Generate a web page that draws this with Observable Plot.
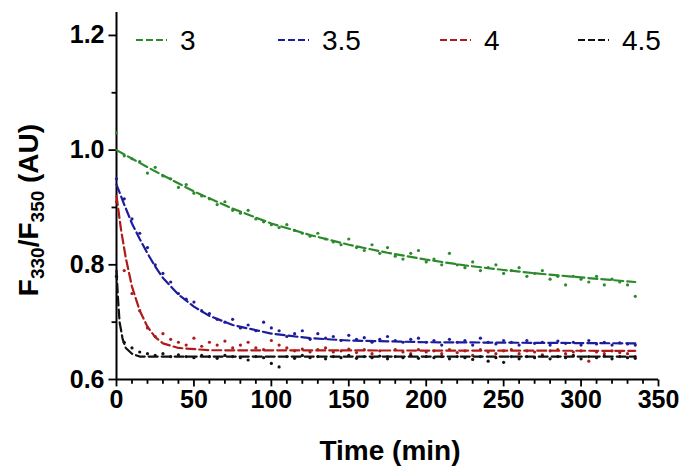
<!DOCTYPE html>
<html><head><meta charset="utf-8">
<script src="https://cdn.jsdelivr.net/npm/d3@7"></script>
<script src="https://cdn.jsdelivr.net/npm/@observablehq/plot@0.6"></script>
<style>body{margin:0;background:#fff}</style>
</head><body><div id="chart"></div>
<script>
const seriesNames = ["3", "3.5", "4", "4.5"];
const colours = ["#2b8a2b", "#1c1c9c", "#b01a1a", "#111111"];
const times = [0,5,10,15,20,25,30,35,40,45,50,55,60,65,70,75,80,85,90,95,100,105,110,115,120,125,130,135,140,145,150,155,160,165,170,175,180,185,190,195,200,205,210,215,220,225,230,235,240,245,250,255,260,265,270,275,280,285,290,295,300,305,310,315,320,325,330,335];
const dots3 = [1.03,0.99,0.985,0.98,0.96,0.97,0.955,0.95,0.935,0.94,0.925,0.92,0.915,0.905,0.91,0.895,0.89,0.895,0.88,0.875,0.87,0.865,0.87,0.86,0.855,0.85,0.855,0.845,0.84,0.835,0.845,0.83,0.825,0.835,0.82,0.83,0.815,0.81,0.82,0.825,0.805,0.81,0.80,0.82,0.80,0.795,0.805,0.79,0.795,0.80,0.785,0.79,0.795,0.78,0.785,0.79,0.775,0.78,0.765,0.78,0.775,0.77,0.78,0.765,0.775,0.77,0.765,0.745];
const dots35 = [0.95,0.915,0.88,0.855,0.83,0.80,0.785,0.77,0.75,0.74,0.735,0.72,0.715,0.705,0.70,0.705,0.69,0.695,0.685,0.70,0.69,0.685,0.675,0.68,0.685,0.67,0.68,0.672,0.675,0.668,0.677,0.67,0.673,0.665,0.67,0.675,0.668,0.665,0.67,0.672,0.665,0.668,0.66,0.67,0.665,0.668,0.66,0.672,0.665,0.662,0.668,0.665,0.66,0.668,0.663,0.665,0.66,0.667,0.663,0.665,0.66,0.668,0.662,0.665,0.66,0.664,0.662,0.66];
const dots4 = [0.91,0.79,0.75,0.72,0.69,0.675,0.68,0.67,0.665,0.66,0.672,0.658,0.665,0.66,0.667,0.655,0.66,0.665,0.655,0.652,0.668,0.66,0.655,0.65,0.653,0.648,0.652,0.655,0.648,0.65,0.653,0.647,0.652,0.645,0.65,0.64,0.652,0.648,0.645,0.652,0.648,0.65,0.645,0.652,0.647,0.65,0.642,0.652,0.648,0.645,0.65,0.652,0.645,0.65,0.648,0.643,0.65,0.652,0.645,0.648,0.65,0.632,0.648,0.645,0.65,0.647,0.645,0.64];
const dots45 = [0.78,0.665,0.655,0.648,0.645,0.642,0.645,0.64,0.643,0.64,0.638,0.642,0.64,0.637,0.642,0.64,0.638,0.634,0.64,0.638,0.628,0.622,0.64,0.637,0.642,0.638,0.64,0.636,0.64,0.638,0.642,0.637,0.64,0.638,0.641,0.636,0.64,0.638,0.642,0.637,0.64,0.638,0.64,0.636,0.64,0.638,0.635,0.64,0.632,0.638,0.63,0.64,0.636,0.64,0.638,0.641,0.636,0.64,0.638,0.642,0.636,0.64,0.638,0.641,0.636,0.64,0.638,0.637];
// fitted curves
const fit3T = [0,25,50,75,100,125,150,175,200,225,250,275,300,335];
const fit3V = [1.0,0.963,0.928,0.898,0.872,0.852,0.835,0.821,0.809,0.799,0.791,0.784,0.778,0.77];
const fit35T = [0,5,10,15,20,25,30,40,50,60,75,100,125,150,200,335];
const fit35V = [0.94,0.905,0.872,0.845,0.82,0.797,0.777,0.748,0.727,0.711,0.695,0.68,0.672,0.668,0.665,0.663];
const fit4T = [0,3,6,10,15,20,25,30,40,60,335];
const fit4V = [0.92,0.86,0.812,0.762,0.72,0.692,0.674,0.663,0.655,0.651,0.65];
const fit45T = [0,1,2,4,6,10,15,335];
const fit45V = [0.79,0.74,0.70,0.67,0.655,0.645,0.64,0.64];
const xMajor = [0,50,100,150,200,250,300,350];
const xMinor = [10,20,30,40,60,70,80,90,110,120,130,140,160,170,180,190,210,220,230,240,260,270,280,290,310,320,330,340];
const yMajor = [0.6,0.8,1.0,1.2];
const yMinor = [0.7,0.9,1.1];

const dotSets = [dots3, dots35, dots4, dots45];
const fits = [[fit3T, fit3V], [fit35T, fit35V], [fit4T, fit4V], [fit45T, fit45V]];
const dotData = dotSets.flatMap((vals, i) => vals.map((v, j) => ({t: times[j], v, s: seriesNames[i]})));
const fitData = fits.flatMap(([ts, vs], i) => ts.map((t, j) => ({t, v: vs[j], s: seriesNames[i]})));
const font = "Liberation Sans, Arial, sans-serif";

const plot = Plot.plot({
  width: 682, height: 472,
  marginLeft: 116, marginRight: 24, marginTop: 12, marginBottom: 93,
  style: {fontFamily: font},
  x: {domain: [0, 350], label: null, axis: null},
  y: {domain: [0.6, 1.24], label: null, axis: null},
  color: {domain: seriesNames, range: colours},
  marks: [
    // tick marks drawn as short links just outside the frame
    Plot.link(xMinor, {x1: d => d, x2: d => d, y1: 0.6, y2: 0.5925, strokeWidth: 1.8}),
    Plot.link(xMajor, {x1: d => d, x2: d => d, y1: 0.6, y2: 0.588, strokeWidth: 1.8}),
    Plot.link(yMinor, {y1: d => d, y2: d => d, x1: 0, x2: -3.2, strokeWidth: 1.8}),
    Plot.link(yMajor, {y1: d => d, y2: d => d, x1: 0, x2: -5.2, strokeWidth: 1.8}),
    Plot.text(xMajor, {x: d => d, frameAnchor: "bottom", dy: 28, text: d => String(d), fontSize: 25, fontWeight: "bold"}),
    Plot.text(yMajor, {y: d => d, frameAnchor: "left", dx: -12, textAnchor: "end", text: d => d.toFixed(1), fontSize: 25, fontWeight: "bold"}),
    Plot.ruleX([0], {strokeWidth: 2}),
    Plot.ruleY([0.6], {strokeWidth: 2}),
    Plot.dot(dotData, {x: "t", y: "v", fill: "s", r: 1.6, stroke: null}),
    Plot.line(fitData, {x: "t", y: "v", z: "s", stroke: "s", strokeWidth: 2.2, strokeDasharray: "9,4"})
  ]
});
const svg = d3.select(plot);
// x label
svg.append("text").attr("x", 390).attr("y", 460).attr("text-anchor", "middle")
  .attr("font-family", font).attr("font-size", 28).attr("font-weight", "bold")
  .text("Time (min)");
// y label with subscripts
const yl = svg.append("text").attr("transform", "translate(38,210) rotate(-90)").attr("text-anchor", "middle")
  .attr("font-family", font).attr("font-size", 28).attr("font-weight", "bold");
yl.append("tspan").text("F");
yl.append("tspan").attr("font-size", 19).attr("dy", 6).text("330");
yl.append("tspan").attr("dy", -6).text("/F");
yl.append("tspan").attr("font-size", 19).attr("dy", 6).text("350");
yl.append("tspan").attr("dy", -6).text(" (AU)");
// legend
const legX = [136, 278, 440, 578];
seriesNames.forEach((s, i) => {
  svg.append("line").attr("x1", legX[i]).attr("x2", legX[i] + 31).attr("y1", 40).attr("y2", 40)
    .attr("stroke", colours[i]).attr("stroke-width", 2).attr("stroke-dasharray", "7,3");
  svg.append("text").attr("x", legX[i] + 44).attr("y", 50).attr("font-size", 28)
    .attr("text-anchor", "start").attr("font-family", font).text(s);
});
document.getElementById("chart").appendChild(plot);
</script></body></html>
